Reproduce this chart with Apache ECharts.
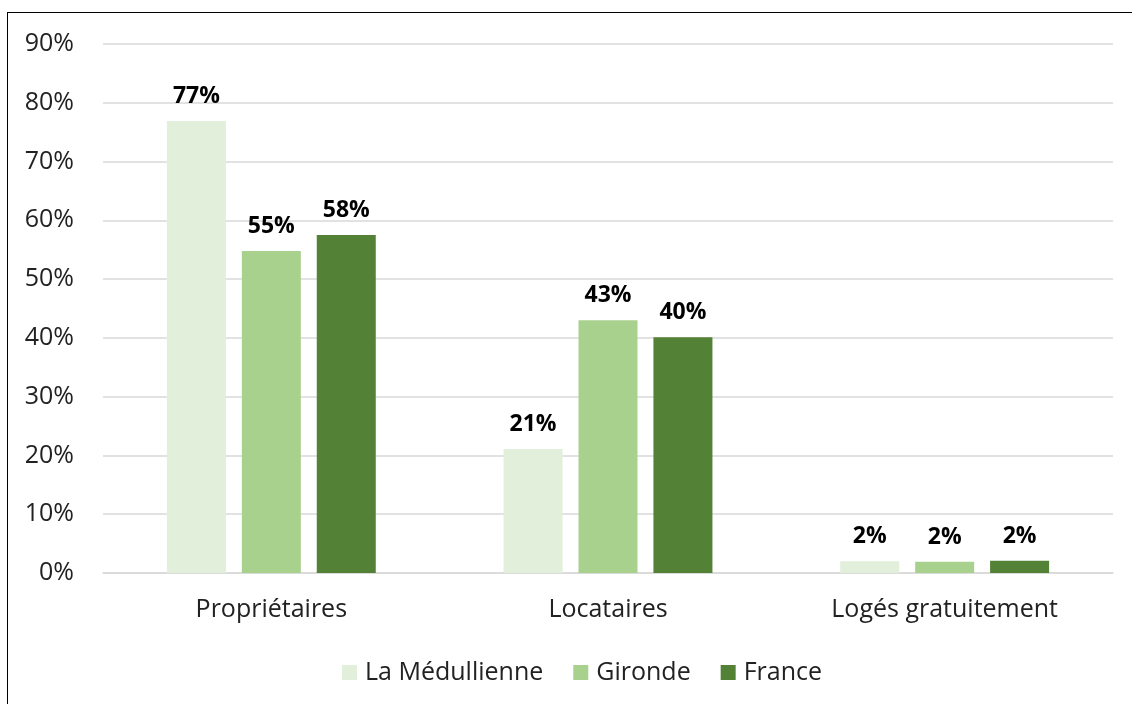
<!DOCTYPE html>
<html>
<head>
<meta charset="utf-8">
<script src="https://cdn.jsdelivr.net/npm/echarts@6/dist/echarts.min.js"></script>
<style>
  html, body { margin: 0; padding: 0; background: #fff; }
  .frame {
    position: absolute; left: 7px; top: 12px;
    width: 1140px; height: 720px;
    border: 1px solid #000; box-sizing: border-box;
  }
  #chart { position: absolute; left: 0; top: 0; width: 1132px; height: 704px; }
</style>
</head>
<body>
<div class="frame"></div>
<div id="chart"></div>
<script>
  // categories and series (percent)
  const categories = ['Propriétaires', 'Locataires', 'Logés gratuitement'];
  const medullienne = [76.9, 21.1, 2.0];
  const gironde = [54.8, 43.0, 1.9];
  const france = [57.5, 40.1, 2.1];
  const yTicks = [0, 10, 20, 30, 40, 50, 60, 70, 80, 90];

  const font = '"Open Sans", sans-serif';
  const colors = ['#e2efda', '#a9d18e', '#538135'];

  let chart = echarts.init(document.getElementById('chart'));

  function barSeries(name, data, color){
    return {
      name,
      type: 'bar',
      data,
      barWidth: 59,
      barGap: '27%',
      itemStyle: { color },
      label: {
        show: true,
        position: 'top',
        distance: 13,
        fontFamily: font,
        fontWeight: 'bold',
        fontSize: 23,
        color: '#000',
        formatter: p => Math.round(p.value) + '%'
      }
    };
  }

  let option = {
    animation: false,
    textStyle: { fontFamily: font },
    grid: {
      left: 103,
      right: 19,
      top: 44,
      bottom: 131,
      containLabel: false
    },
    legend: {
      left: 337,
      top: 655,
      itemWidth: 15,
      itemHeight: 15,
      itemGap: 30,
      icon: 'rect',
      textStyle: { fontFamily: font, fontSize: 25, color: '#222', padding: [0, 0, 0, 3] },
      data: ['La Médullienne', 'Gironde', 'France']
    },
    xAxis: {
      type: 'category',
      data: categories,
      axisLine: { lineStyle: { color: '#d9d9d9', width: 1.5 } },
      axisTick: { show: false },
      axisLabel: { fontFamily: font, fontSize: 25, color: '#222', margin: 24 }
    },
    yAxis: {
      type: 'value',
      min: yTicks[0],
      max: yTicks[yTicks.length - 1],
      interval: 10,
      axisLine: { show: false },
      axisTick: { show: false },
      axisLabel: {
        fontFamily: font, fontSize: 25, color: '#222', margin: 29,
        formatter: '{value}%'
      },
      splitLine: { lineStyle: { color: '#d9d9d9', width: 1.5 } }
    },
    series: [
      barSeries('La Médullienne', medullienne, colors[0]),
      barSeries('Gironde', gironde, colors[1]),
      barSeries('France', france, colors[2])
    ]
  };
  chart.setOption(option);
</script>
</body>
</html>
